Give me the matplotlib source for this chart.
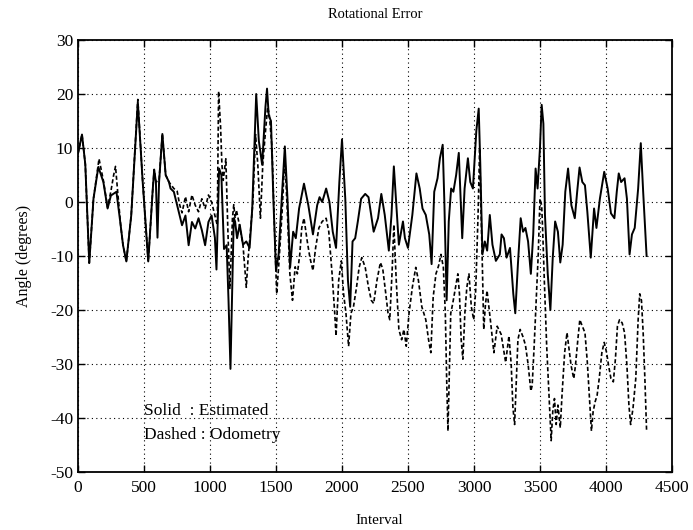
import matplotlib
matplotlib.use("Agg")
import matplotlib.pyplot as plt

# ---- data ----
est_x = [0, 30, 55, 85, 117, 154, 192, 224, 249, 291, 323, 341, 366, 403, 453, 490, 532, 565, 577, 590,
         602, 614, 639, 664, 689, 701, 726, 751, 788, 814, 838, 863, 888, 913, 938, 963, 988, 1012, 1037,
         1049, 1069, 1086, 1106, 1126, 1140, 1155, 1170, 1180, 1190, 1205, 1225, 1250, 1275, 1300, 1320,
         1350, 1370, 1395, 1420, 1432, 1445, 1462, 1480, 1500, 1520, 1542, 1567, 1587, 1607, 1630, 1650,
         1675, 1712, 1745, 1780, 1812, 1830, 1850, 1880, 1905, 1930, 1955, 1980, 2000, 2025, 2045, 2062,
         2080, 2100, 2120, 2145, 2176, 2201, 2240, 2273, 2298, 2324, 2355, 2375, 2393, 2413, 2431, 2462,
         2477, 2500, 2533, 2564, 2589, 2610, 2635, 2661, 2679, 2699, 2724, 2742, 2763, 2775, 2793, 2809,
         2827, 2844, 2865, 2885, 2911, 2929, 2954, 2972, 2992, 3018, 3036, 3048, 3064, 3082, 3100, 3120,
         3140, 3166, 3196, 3209, 3227, 3247, 3273, 3298, 3313, 3333, 3354, 3372, 3390, 3410, 3431, 3449,
         3467, 3482, 3500, 3513, 3526, 3538, 3559, 3579, 3597, 3615, 3636, 3654, 3672, 3692, 3713, 3738,
         3764, 3782, 3800, 3821, 3841, 3859, 3885, 3910, 3928, 3954, 3987, 4013, 4038, 4064, 4082, 4097,
         4115, 4141, 4159, 4179, 4197, 4218, 4244, 4264, 4282, 4308]
est_y = [9, 12.5, 7, -11.3, 0.6, 6.5, 3.7, -1.2, 1.2, 1.9, -4.3, -8, -11, -2.5, 18.5, 3.7, -11, 1.9, 6, 3.7,
         -6.6, 3.7, 12.6, 5, 3.7, 2.5, 1.9, -0.6, -4.3, -2.5, -8, -3.7, -4.9, -3, -5.2, -8, -3.7, -2.5, -6.6,
         -12.5, 6.2, 5, -8.7, -8, -18, -30.9, -14.5, -3, -3.6, -6.7, -4.2, -7.9, -7.3, -8.5, -1.2,
         20, 11.3, 6.9, 17.6, 21, 16, 15, 0.6, -12.7, -9.7, 0, 10.3, 0.6, -12.1, -5.5, -6.7,
         -1.2, 3.4, -0.6, -6, -0.6, 0.9, 0, 2.5, 0, -5.5, -8.5, 3.7, 11.6, 0.6, -14.5, -19.4,
         -7.3, -6.7, -3.6, 0.6, 1.5, 0.9, -5.5, -3, 1.5, -2.4, -9, -2.4, 6.6, -1.2, -7.9, -3.6,
         -6.7, -8.5, -2.4, 5.3, 2.5, -1.2, -2.4, -6, -11.5, 1.9, 4.4, 8.1, 10.6, 0.6, -18.2, -3.6,
         2.5, 1.9, 5, 9.1, -6.7, 2.5, 8.1, 3.7, 2.5, 13.2, 17.3, 6.9, -9.7, -7.3, -9, -2.4,
         -7.9, -10.9, -9.7, -6, -6.7, -10.3, -8.5, -17, -20.6, -11.5, -3, -5.5, -4.8, -7.3, -13.3, -6,
         6.2, 2.5, 10, 18, 14.5, -2.4, -13.3, -20, -10.3, -3.6, -5.5, -11.2, -7.9, 1.9, 6.2, -0.6,
         -3, 1.9, 6.4, 3.7, 3.1, -1.8, -10.3, -1.2, -4.8, 0.6, 5.6, 2.5, -2.1, -3, 1.9, 5.3,
         3.7, 4.4, 0.6, -9.7, -6, -4.8, 2.5, 10.9, 1.9, -10]

odo_x = [0, 30, 55, 85, 117, 159, 192, 224, 249, 270, 284, 300, 323, 341, 366, 403, 453, 490, 532, 565,
         577, 590, 614, 639, 664, 689, 726, 751, 770, 788, 814, 838, 863, 888, 913, 938, 963, 988, 1012,
         1037, 1055, 1065, 1080, 1090, 1100, 1110, 1120, 1135, 1150, 1160, 1170, 1180, 1190, 1200, 1225,
         1250, 1275, 1287, 1300, 1325, 1345, 1362, 1382, 1400, 1420, 1437, 1450, 1470, 1487, 1505, 1520,
         1545, 1567, 1587, 1605, 1625, 1645, 1662, 1680, 1695, 1712, 1737, 1757, 1780, 1800, 1825, 1850,
         1880, 1900, 1925, 1945, 1955, 1975, 1995, 2012, 2030, 2050, 2068, 2087, 2110, 2130, 2150, 2176,
         2201, 2222, 2240, 2265, 2291, 2309, 2329, 2349, 2362, 2380, 2393, 2411, 2431, 2452, 2469, 2487,
         2508, 2533, 2559, 2579, 2605, 2635, 2656, 2673, 2691, 2712, 2732, 2750, 2768, 2783, 2793, 2803,
         2814, 2824, 2839, 2860, 2878, 2890, 2903, 2916, 2931, 2946, 2962, 2980, 2998, 3013, 3031, 3043,
         3052, 3064, 3074, 3087, 3099, 3125, 3151, 3176, 3206, 3240, 3265, 3282, 3295, 3308, 3321, 3333,
         3350, 3372, 3390, 3410, 3431, 3441, 3456, 3474, 3487, 3500, 3513, 3521, 3533, 3551, 3569, 3585,
         3597, 3610, 3623, 3636, 3654, 3667, 3687, 3705, 3718, 3736, 3756, 3769, 3787, 3802, 3821, 3841,
         3859, 3877, 3890, 3903, 3918, 3933, 3949, 3969, 3987, 4005, 4020, 4038, 4056, 4072, 4087, 4103,
         4123, 4141, 4159, 4174, 4187, 4205, 4226, 4244, 4256, 4269, 4282, 4295, 4308]
odo_y = [9, 12.5, 7, -11.3, 0.6, 8, 4, -1, 2, 5, 6.6, 2, -4.3, -8, -11, -2.5, 19, 3.7, -11, 1.9,
         6, 3.7, 4, 12.6, 5, 3.7, 2.5, 2, -0.5, -2, 1, -1.8, 1.3, -0.6, -1.8, 0.6, -1.2, 1.3, 0,
         -2.5, -4.3, 20.5, 14, 7, 4, 6, 8, -5, -16, -10, -3, -0.5, -3, -1.5, -4.5,
         -8, -15.8, -11, -7.3, 0, 12.5, 7, -3, 7, 13, 17.6, 16, 10, -3.6, -17, -12,
         -2.4, 8.5, -2.4, -13.3, -18.2, -12, -13.3, -9.7, -4.8, -3, -7.3, -10.3, -12.7, -8.5, -4.8, -3.6,
         -3, -5.5, -13.3, -20.6, -24.8, -14.5, -10.9, -17, -20.6, -26.7, -20.6, -19.4, -15.8, -12.1, -10.3, -12.1,
         -15.8, -18.2, -18.8, -14.5, -11.2, -12.4, -16.4, -20.6, -21.8, -12.7, -4.2, -14.5, -23.6, -25.5, -23.6, -26.7,
         -20.6, -15.8, -12.1, -14.5, -19.4, -21.8, -25.5, -27.9, -17.6, -13.3, -11.8, -9.7, -12.1, -20.6, -32.7, -42.4,
         -30.9, -20.6, -18.8, -15.8, -13.3, -17, -25.5, -29.1, -20.6, -15.8, -13.3, -19.4, -21.8, -16.4, -2.4, 10,
         0, -12.1, -23.6, -19, -16.4, -22, -27.9, -23, -24.5, -29.7, -24.8, -30, -38, -41.2, -33, -25.5,
         -23.6, -25, -26.5, -30, -35, -34, -26.7, -17, -9.7, 0.6, -0.6, -5.5, -14.5, -26.7, -35.8, -44.2,
         -38.8, -36.4, -41.2, -37.6, -41.8, -35.8, -27.9, -24.2, -26.7, -30.3, -32.7, -30.3, -25.5, -21.8, -23, -24.2,
         -29.7, -37, -42.4, -38.8, -37, -35.8, -32.7, -27.9, -26, -27.9, -30.3, -32.7, -33.3, -29, -23, -21.8,
         -22.4, -24.2, -30.3, -37.6, -41.2, -38.2, -32.7, -21.8, -17, -18.2, -24.2, -32.7, -42.4]

x_ticks = [0, 500, 1000, 1500, 2000, 2500, 3000, 3500, 4000, 4500]
y_ticks = [-50, -40, -30, -20, -10, 0, 10, 20, 30]

plt.rcParams['font.family'] = ['Liberation Serif', 'DejaVu Serif']
plt.rcParams['axes.unicode_minus'] = False

fig = plt.figure(figsize=(6.93, 5.30), dpi=100)
ax = fig.add_axes([0.1126, 0.1094, 0.857, 0.8151])

ax.plot(odo_x, odo_y, color='black', lw=1.2, linestyle=(0, (2.5, 1.5)))
ax.plot(est_x, est_y, color='black', lw=1.4)

ax.set_xlim(0, 4500)
ax.set_ylim(-50, 30)
ax.set_xticks(x_ticks)
ax.set_yticks(y_ticks)
ax.tick_params(direction='in', length=5, width=1, labelsize=12.5, top=True, right=True)
ax.tick_params(axis='x', pad=6)
ax.grid(True, color='black', linestyle=(0, (1, 3)), linewidth=0.8)
for s in ax.spines.values():
    s.set_linewidth(1.3)

ax.set_title('Rotational Error', fontsize=10.5, pad=16)
ax.set_ylabel('Angle (degrees)', fontsize=11.5, labelpad=13)
fig.text(379 / 693, 6 / 530, 'Interval', fontsize=11, ha='center', va='baseline')

ax.text(500, -39.5, 'Solid  : Estimated', fontsize=12.5, va='baseline', ha='left')
ax.text(500, -43.9, 'Dashed : Odometry', fontsize=12.5, va='baseline', ha='left')

fig.savefig('out.png', dpi=100)
